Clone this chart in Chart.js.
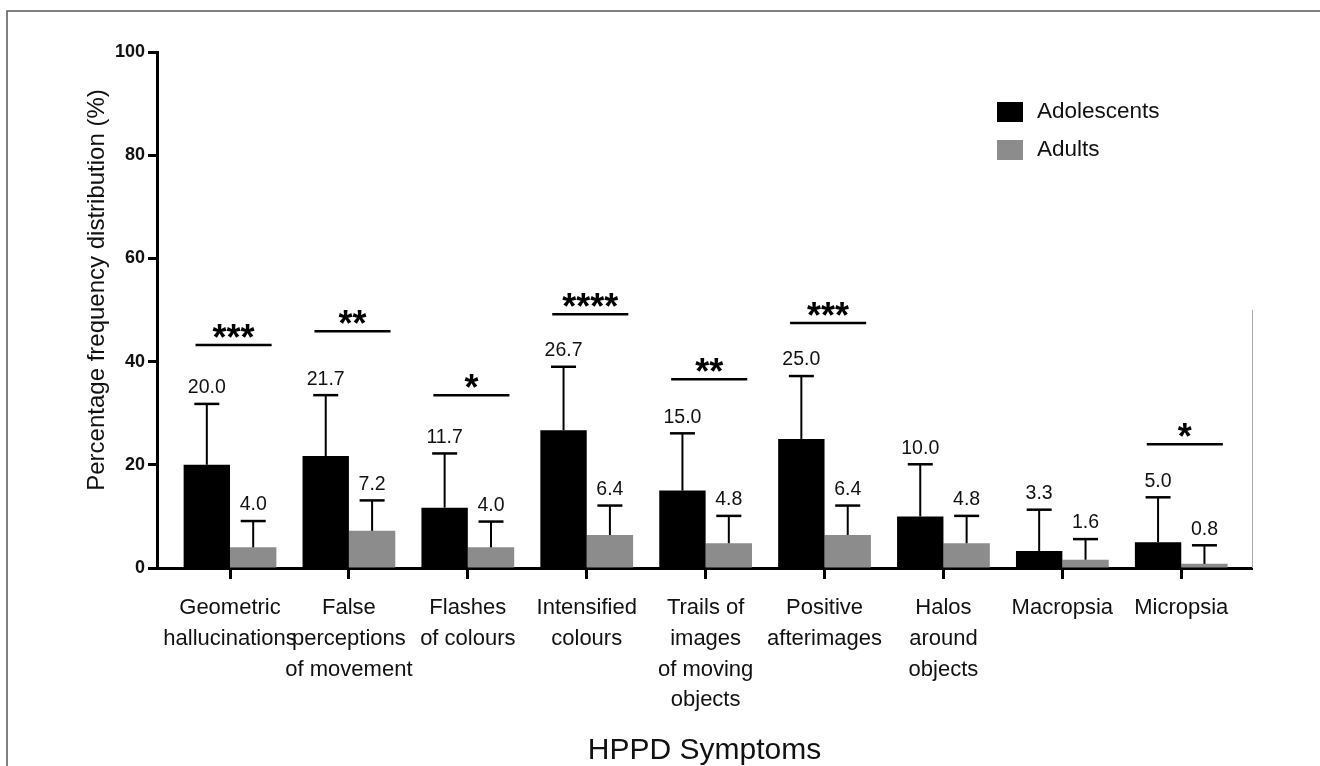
<!DOCTYPE html>
<html>
<head>
<meta charset="utf-8">
<script src="https://cdn.jsdelivr.net/npm/chart.js@4.4.1/dist/chart.umd.min.js"></script>
<style>
  html, body { margin:0; padding:0; background:#fff; }
  #wrap { width:1320px; height:766px; }
</style>
</head>
<body>
<div id="wrap"><canvas id="chart-area" width="1320" height="766"></canvas></div>
<script>
var symptoms = [
  ['Geometric', 'hallucinations'],
  ['False', 'perceptions', 'of movement'],
  ['Flashes', 'of colours'],
  ['Intensified', 'colours'],
  ['Trails of', 'images', 'of moving', 'objects'],
  ['Positive', 'afterimages'],
  ['Halos', 'around', 'objects'],
  ['Macropsia'],
  ['Micropsia']
];
var adolescents = [20.0, 21.7, 11.7, 26.7, 15.0, 25.0, 10.0, 3.3, 5.0];
var adults = [4.0, 7.2, 4.0, 6.4, 4.8, 6.4, 4.8, 1.6, 0.8];
// upper error bar length
var adolescents_err = [11.8, 11.8, 10.5, 12.3, 11.1, 12.2, 10.1, 8.0, 8.7];
var adults_err = [5.1, 5.9, 5.0, 5.7, 5.3, 5.7, 5.3, 4.0, 3.6];
// significance markers and the y value of their bar
var sig_stars = ['***', '**', '*', '****', '**', '***', '', '', '*'];
var sig_height = [43.2, 45.9, 33.5, 49.2, 36.6, 47.5, null, null, 24.0];
var y_ticks = [0, 20, 40, 60, 80, 100];

var FONT = '"Liberation Sans", Arial, Helvetica, sans-serif';
Chart.defaults.font.family = FONT;
Chart.defaults.color = '#111';

function points(arr){
  var out = [];
  for(var i = 0; i < arr.length; i++){
    out.push({x: i, y: arr[i]});
  }
  return out;
}

var extrasPlugin = {
  id: 'extras',
  afterDatasetsDraw: function(chart){
    var ctx = chart.ctx;
    var xs = chart.scales.x, ys = chart.scales.y;
    var errs = [adolescents_err, adults_err];
    ctx.save();

    //error bars + value labels
    for(var d = 0; d < chart.data.datasets.length; d++){
      var meta = chart.getDatasetMeta(d);
      var vals = chart.data.datasets[d].data;
      for(var i = 0; i < meta.data.length; i++){
        var bar = meta.data[i];
        var v = vals[i].y;
        var top = ys.getPixelForValue(v + errs[d][i]);
        ctx.strokeStyle = '#000';
        ctx.lineWidth = 2;
        ctx.beginPath();
        ctx.moveTo(bar.x, bar.y);
        ctx.lineTo(bar.x, top);
        ctx.stroke();
        ctx.lineWidth = 2.5;
        ctx.beginPath();
        ctx.moveTo(bar.x - 12.5, top);
        ctx.lineTo(bar.x + 12.5, top);
        ctx.stroke();
        ctx.fillStyle = '#111';
        ctx.font = '19.5px ' + FONT;
        ctx.textAlign = 'center';
        ctx.textBaseline = 'middle';
        ctx.fillText(v.toFixed(1), bar.x, top - 16);
      }
    }

    //significance lines
    for(var k = 0; k < sig_stars.length; k++){
      if(!sig_stars[k]) continue;
      var y = ys.getPixelForValue(sig_height[k]);
      var x1 = xs.getPixelForValue(k - 0.29);
      var x2 = xs.getPixelForValue(k + 0.35);
      ctx.strokeStyle = '#000';
      ctx.lineWidth = 2.5;
      ctx.beginPath();
      ctx.moveTo(x1, y);
      ctx.lineTo(x2, y);
      ctx.stroke();
      ctx.fillStyle = '#000';
      ctx.font = 'bold 36px ' + FONT;
      ctx.textAlign = 'center';
      ctx.textBaseline = 'alphabetic';
      ctx.fillText(sig_stars[k], (x1 + x2) / 2, y + 5);
    }

    //legend
    var ly = [112, 150];
    for(var d2 = 0; d2 < chart.data.datasets.length; d2++){
      var ds = chart.data.datasets[d2];
      ctx.fillStyle = ds.backgroundColor;
      ctx.fillRect(997, ly[d2] - 10, 26, 20);
      ctx.fillStyle = '#111';
      ctx.font = '22.5px ' + FONT;
      ctx.textAlign = 'left';
      ctx.textBaseline = 'middle';
      ctx.fillText(ds.label, 1037, ly[d2]);
    }

    //y axis title
    ctx.save();
    ctx.translate(97, 290);
    ctx.rotate(-Math.PI / 2);
    ctx.fillStyle = '#111';
    ctx.font = '24px ' + FONT;
    ctx.textAlign = 'center';
    ctx.textBaseline = 'middle';
    ctx.fillText('Percentage frequency distribution (%)', 0, 0);
    ctx.restore();

    //frame of the figure + thin line at the right end
    ctx.strokeStyle = '#555';
    ctx.lineWidth = 1.5;
    ctx.beginPath();
    ctx.moveTo(7, 766);
    ctx.lineTo(7, 11);
    ctx.lineTo(1320, 11);
    ctx.stroke();
    ctx.strokeStyle = '#aaa';
    ctx.lineWidth = 1;
    ctx.beginPath();
    ctx.moveTo(xs.right + 0.5, ys.getPixelForValue(50));
    ctx.lineTo(xs.right + 0.5, ys.bottom);
    ctx.stroke();

    ctx.restore();
  }
};

var config = {
  type: 'bar',
  data: {
    datasets: [
      {
        label: 'Adolescents',
        data: points(adolescents),
        backgroundColor: '#000000',
        borderWidth: 0,
        categoryPercentage: 0.78,
        barPercentage: 1.0
      },
      {
        label: 'Adults',
        data: points(adults),
        backgroundColor: '#8c8c8c',
        borderWidth: 0,
        categoryPercentage: 0.78,
        barPercentage: 1.0
      }
    ]
  },
  options: {
    responsive: false,
    animation: false,
    devicePixelRatio: 1,
    layout: {padding: {top: 52, right: 68, bottom: 0, left: 0}},
    plugins: {
      legend: {display: false},
      tooltip: {enabled: false}
    },
    scales: {
      x: {
        type: 'linear',
        min: -0.614,
        max: 8.595,
        offset: false,
        afterFit: function(scale){ scale.height = 198; },
        grid: {
          display: true,
          offset: false,
          drawOnChartArea: false,
          drawTicks: true,
          tickLength: 11,
          tickWidth: 3,
          tickColor: '#000'
        },
        border: {display: true, color: '#000', width: 3},
        ticks: {
          stepSize: 1,
          includeBounds: false,
          autoSkip: false,
          maxRotation: 0,
          minRotation: 0,
          padding: 14,
          color: '#111',
          font: {size: 22, lineHeight: 1.39},
          callback: function(value){
            if(Number.isInteger(value) && value >= 0 && value < symptoms.length) return symptoms[value];
            return '';
          }
        },
        title: {
          display: true,
          text: 'HPPD Symptoms',
          color: '#111',
          font: {size: 30, lineHeight: 1.0},
          padding: {top: 0, bottom: 0}
        }
      },
      y: {
        min: 0,
        max: 100,
        afterFit: function(scale){ scale.width = 157; },
        afterBuildTicks: function(scale){
          scale.ticks = y_ticks.map(function(v){ return {value: v}; });
        },
        grid: {
          display: true,
          drawOnChartArea: false,
          drawTicks: true,
          tickLength: 9,
          tickWidth: 3,
          tickColor: '#000'
        },
        border: {display: true, color: '#000', width: 3},
        ticks: {
          padding: 3,
          color: '#111',
          font: {size: 18, weight: 'bold'}
        }
      }
    }
  },
  plugins: [extrasPlugin]
};

var ctx = document.getElementById('chart-area').getContext('2d');
var chart = new Chart(ctx, config);
</script>
</body>
</html>
